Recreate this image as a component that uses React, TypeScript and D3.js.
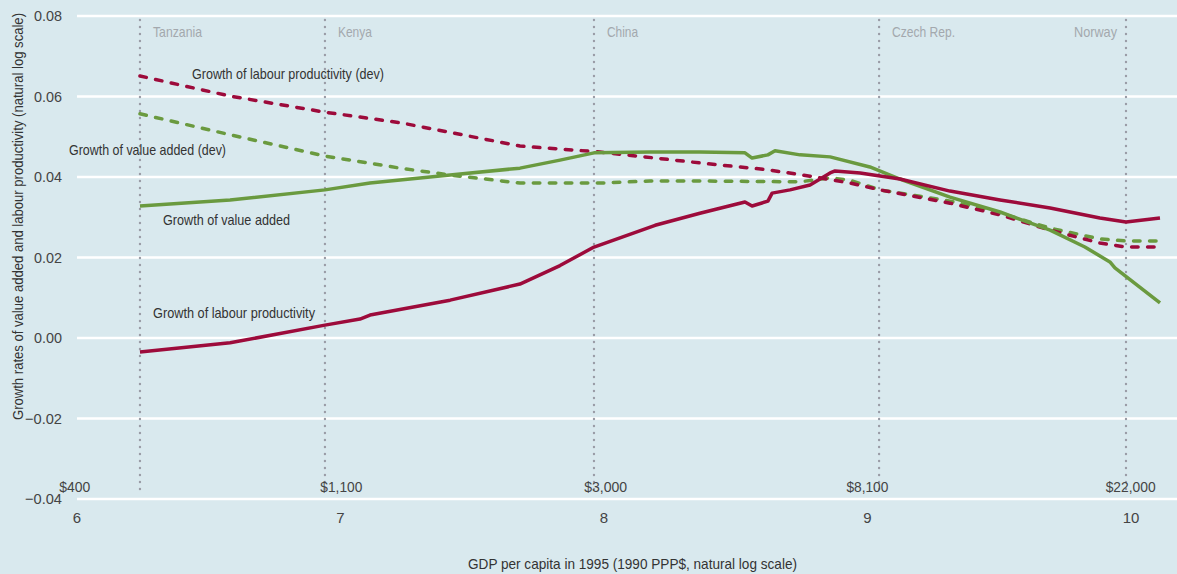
import React from "react";
import * as d3 from "d3";

const W = 1177;
const H = 574;

// x values are natural log of GDP per capita
const lpDevX = [6.239, 6.581, 6.941, 7.226, 7.681, 7.985, 8.364, 8.622, 8.782, 8.934, 9.047, 9.313, 9.503, 9.693, 9.882, 9.981, 10.11];
const lpDevY = [0.0651, 0.0601, 0.0561, 0.0535, 0.0477, 0.0462, 0.0435, 0.0418, 0.0402, 0.0385, 0.0368, 0.0335, 0.0306, 0.0268, 0.0236, 0.0226, 0.0226];

const vaDevX = [6.239, 6.581, 6.941, 7.226, 7.416, 7.681, 7.985, 8.175, 8.364, 8.744, 8.858, 8.934, 9.047, 9.313, 9.465, 9.693, 9.882, 9.981, 10.11];
const vaDevY = [0.0557, 0.0505, 0.0452, 0.0422, 0.0405, 0.0385, 0.0385, 0.039, 0.039, 0.0388, 0.0398, 0.0392, 0.0368, 0.034, 0.0318, 0.0273, 0.0246, 0.0241, 0.0241];

const vaX = [6.239, 6.581, 6.941, 7.112, 7.416, 7.681, 7.833, 7.962, 8.175, 8.364, 8.535, 8.562, 8.622, 8.649, 8.744, 8.858, 9.009, 9.123, 9.313, 9.503, 9.693, 9.825, 9.92, 9.939, 10.11];
const vaY = [0.0328, 0.0343, 0.0368, 0.0385, 0.0405, 0.0422, 0.0442, 0.046, 0.0462, 0.0462, 0.046, 0.0447, 0.0455, 0.0465, 0.0455, 0.045, 0.0425, 0.0395, 0.035, 0.0313, 0.0268, 0.0226, 0.0189, 0.0174, 0.0087];

const lpX = [6.239, 6.581, 6.941, 7.074, 7.112, 7.416, 7.681, 7.833, 7.962, 8.194, 8.364, 8.535, 8.562, 8.622, 8.638, 8.706, 8.782, 8.858, 8.877, 8.972, 9.123, 9.313, 9.503, 9.693, 9.882, 9.981, 10.11];
const lpY = [-0.0035, -0.0012, 0.0032, 0.0047, 0.0057, 0.0094, 0.0134, 0.018, 0.0226, 0.028, 0.031, 0.0338, 0.0328, 0.034, 0.036, 0.0368, 0.038, 0.041, 0.0415, 0.041, 0.0395, 0.0365, 0.0343, 0.0323, 0.0298, 0.0288, 0.0298];

const yTicks = [0.08, 0.06, 0.04, 0.02, 0.0, -0.02, -0.04];
const xTicks = [6, 7, 8, 9, 10];
const dollarLabels = ["$400", "$1,100", "$3,000", "$8,100", "$22,000"];
const dollarValues = [400, 1100, 3000, 8100, 22000];
const countries = ["Tanzania", "Kenya", "China", "Czech Rep.", "Norway"];
const countryX = [6.239, 6.941, 7.962, 9.044, 9.981];

const RED = "#9d0b3b";
const GREEN = "#6a9a3f";
const BG = "#d9e9ee";
const FONT = "'Liberation Sans', Arial, sans-serif";

const countryW = [49, 34, 31, 63, 43];
const dollarW = [31, 42, 43, 42, 50];

export default function App() {
  const x = d3.scaleLinear().domain([6, 6 + 1100 / 263.5]).range([77, 1177]);
  const y = d3.scaleLinear().domain([-0.04, 0.08]).range([499, 16]);
  const line = (xs: number[], ys: number[]) =>
    d3
      .line<number>()
      .x((_, i) => x(xs[i]))
      .y((d) => y(d))
      .curve(d3.curveLinear)(ys) as string;

  const fmt = (v: number) => (v < 0 ? "\u2212" + Math.abs(v).toFixed(2) : v.toFixed(2));

  return (
    <div style={{ position: "fixed", left: 0, top: 0 }}>
      <svg width={W} height={H} style={{ display: "block", background: BG }} fontFamily={FONT}>
        <rect x={0} y={0} width={W} height={H} fill={BG} />
        {yTicks.map((t) => (
          <g key={t}>
            <line x1={77} x2={W} y1={y(t)} y2={y(t)} stroke="#ffffff" strokeWidth={2.5} />
            <text
              x={62}
              y={y(t)}
              dy="0.35em"
              textAnchor="end"
              fontSize={15}
              fill="#444"
              textLength={t < 0 ? 37 : 28}
              lengthAdjust="spacingAndGlyphs"
            >
              {fmt(t)}
            </text>
          </g>
        ))}
        {countries.map((c, i) => (
          <g key={c}>
            <line
              x1={x(countryX[i])}
              x2={x(countryX[i])}
              y1={20}
              y2={495}
              stroke="#9a9ca6"
              strokeWidth={2.4}
              strokeDasharray="0,7"
              strokeLinecap="round"
            />
            <text
              x={i === 4 ? x(countryX[i]) - 9 : x(countryX[i]) + 13}
              y={32}
              dy="0.35em"
              textAnchor={i === 4 ? "end" : "start"}
              fontSize={14.5}
              fill="#a3a8ad"
              textLength={countryW[i]}
              lengthAdjust="spacingAndGlyphs"
            >
              {c}
            </text>
          </g>
        ))}
        {xTicks.map((t) => (
          <text key={t} x={x(t)} y={518} dy="0.35em" textAnchor="middle" fontSize={15} fill="#444">
            {t}
          </text>
        ))}
        {dollarLabels.map((l, i) => (
          <text
            key={l}
            x={x(Math.log(dollarValues[i]))}
            y={487}
            dy="0.35em"
            textAnchor="middle"
            fontSize={15}
            fill="#444"
            textLength={dollarW[i]}
            lengthAdjust="spacingAndGlyphs"
          >
            {l}
          </text>
        ))}
        <path d={line(vaDevX, vaDevY)} fill="none" stroke={GREEN} strokeWidth={3.5} strokeDasharray="6.5,9.5" strokeLinecap="round" />
        <path d={line(lpDevX, lpDevY)} fill="none" stroke={RED} strokeWidth={3.5} strokeDasharray="6.5,9.5" strokeLinecap="round" />
        <path d={line(vaX, vaY)} fill="none" stroke={GREEN} strokeWidth={3.5} strokeLinejoin="round" />
        <path d={line(lpX, lpY)} fill="none" stroke={RED} strokeWidth={3.5} strokeLinejoin="round" />
        <text x={192} y={74} dy="0.35em" fontSize={15} fill="#333" textLength={192} lengthAdjust="spacingAndGlyphs">
          Growth of labour productivity (dev)
        </text>
        <text x={69} y={150} dy="0.35em" fontSize={15} fill="#333" textLength={157} lengthAdjust="spacingAndGlyphs">
          Growth of value added (dev)
        </text>
        <text x={163} y={220} dy="0.35em" fontSize={15} fill="#333" textLength={127} lengthAdjust="spacingAndGlyphs">
          Growth of value added
        </text>
        <text x={153} y={313} dy="0.35em" fontSize={15} fill="#333" textLength={162} lengthAdjust="spacingAndGlyphs">
          Growth of labour productivity
        </text>
        <text
          transform={`translate(18,216.5) rotate(-90)`}
          x={-203.5}
          y={0}
          dy="0.35em"
          fontSize={14.5}
          fill="#333"
          textLength={407}
          lengthAdjust="spacingAndGlyphs"
        >
          Growth rates of value added and labour productivity (natural log scale)
        </text>
        <text x={468} y={564} dy="0.35em" fontSize={15} fill="#333" textLength={329} lengthAdjust="spacingAndGlyphs">
          GDP per capita in 1995 (1990 PPP$, natural log scale)
        </text>
      </svg>
    </div>
  );
}
